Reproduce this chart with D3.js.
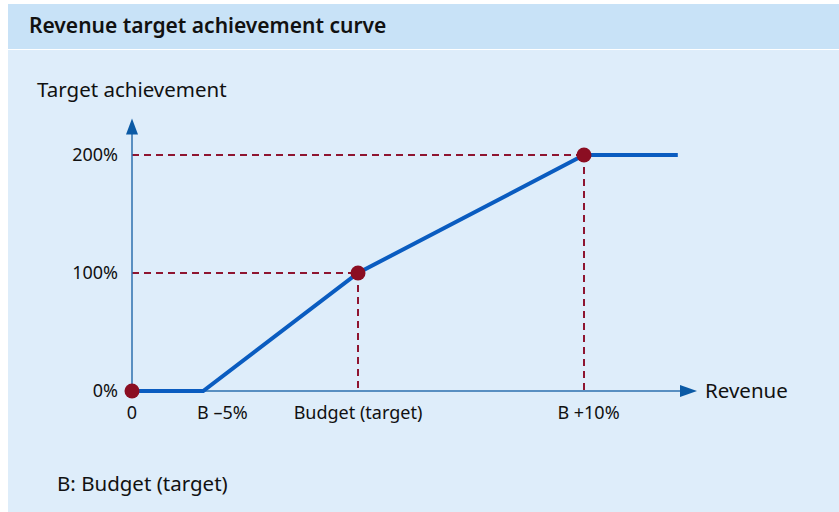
<!DOCTYPE html>
<html>
<head>
<meta charset="utf-8">
<script src="https://cdn.jsdelivr.net/npm/d3@7"></script>
<style>
  body { margin: 0; background: #fff; }
  text { font-family: "Noto Sans", "Open Sans", sans-serif; fill: #111; }
</style>
</head>
<body>
<svg id="chart" width="839" height="512"></svg>
<script>
// schematic revenue axis: B = 10 units
const revenue = [0, 3.15, 10, 20, 24.15];
const achievement = [0, 0, 100, 200, 200];
const markerIdx = [0, 2, 3];           // points with a dot
const guideIdx = [2, 3];               // points with dashed guides

const xTickValues = [0, 3.15, 10, 20];
const xTickLabels = ["0", "B \u20135%", "Budget (target)", "B +10%"];
const xLabelPos = [0, 4.0, 10, 20.2];
const yTickValues = [0, 100, 200];
const yTickLabels = ["0%", "100%", "200%"];

const width = 839, height = 512;
const svg = d3.select("#chart");

const x = d3.scaleLinear([0, 25], [132, 697]);
const y = d3.scaleLinear([0, 200], [391, 155]);

// panel
svg.append("rect").attr("x", 8).attr("y", 4).attr("width", width - 8).attr("height", 45)
  .attr("fill", "#c8e2f7");
svg.append("rect").attr("x", 8).attr("y", 50).attr("width", width - 8).attr("height", height - 50)
  .attr("fill", "#deedfa");

svg.append("text").attr("x", 29).attr("y", 33)
  .style("font-size", "21px").style("font-weight", 600)
  .text("Revenue target achievement curve");

svg.append("text").attr("x", 37).attr("y", 97)
  .style("font-size", "20.5px")
  .text("Target achievement");

// dashed guides
const guides = svg.append("g")
  .attr("stroke", "#8e1530").attr("stroke-width", 1.2)
  .attr("stroke-dasharray", "7,5").attr("fill", "none")
  .attr("shape-rendering", "crispEdges");
guideIdx.forEach(i => {
  guides.append("line")
    .attr("x1", x(0)).attr("x2", x(revenue[i]))
    .attr("y1", y(achievement[i])).attr("y2", y(achievement[i]));
  guides.append("line")
    .attr("x1", x(revenue[i])).attr("x2", x(revenue[i]))
    .attr("y1", y(achievement[i])).attr("y2", y(0));
});

// axes
const axisColor = "#2d6fae";
svg.append("line").attr("x1", x(0)).attr("x2", x(0))
  .attr("y1", y(0)).attr("y2", y(226))
  .attr("stroke", axisColor).attr("stroke-width", 1.5);
svg.append("line").attr("x1", x(0)).attr("x2", x(24.3))
  .attr("y1", y(0)).attr("y2", y(0))
  .attr("stroke", axisColor).attr("stroke-width", 1.5);

// arrow heads
svg.append("path")
  .attr("d", `M${x(0)},${y(231)} L${x(0) + 6},${y(231) + 16} L${x(0) - 6},${y(231) + 16}Z`)
  .attr("fill", "#0b5aa5");
svg.append("path")
  .attr("d", `M${x(25)},${y(0)} L${x(25) - 17},${y(0) - 6} L${x(25) - 17},${y(0) + 6}Z`)
  .attr("fill", "#0b5aa5");

svg.append("text").attr("x", x(25) + 8).attr("y", y(0) + 7)
  .style("font-size", "20.5px").text("Revenue");

// tick labels
svg.append("g").selectAll("text").data(xTickValues).join("text")
  .attr("x", (d, i) => x(xLabelPos[i]))
  .attr("y", y(0) + 28)
  .attr("text-anchor", "middle")
  .style("font-size", "18px")
  .text((d, i) => xTickLabels[i]);

svg.append("g").selectAll("text").data(yTickValues).join("text")
  .attr("x", x(0) - 14)
  .attr("y", d => y(d) + 6)
  .attr("text-anchor", "end")
  .style("font-size", "18px")
  .text((d, i) => yTickLabels[i]);

// curve
const pts = revenue.map((r, i) => [r, achievement[i]]);
svg.append("path").datum(pts)
  .attr("fill", "none")
  .attr("stroke", "#0a5cc0")
  .attr("stroke-width", 4)
  .attr("d", d3.line().x(d => x(d[0])).y(d => y(d[1])));

svg.append("g").selectAll("circle").data(markerIdx).join("circle")
  .attr("cx", i => x(revenue[i]))
  .attr("cy", i => y(achievement[i]))
  .attr("r", 7.5)
  .attr("fill", "#8b0e22");

svg.append("text").attr("x", 57).attr("y", 491)
  .style("font-size", "20.5px").text("B: Budget (target)");
</script>
</body>
</html>
